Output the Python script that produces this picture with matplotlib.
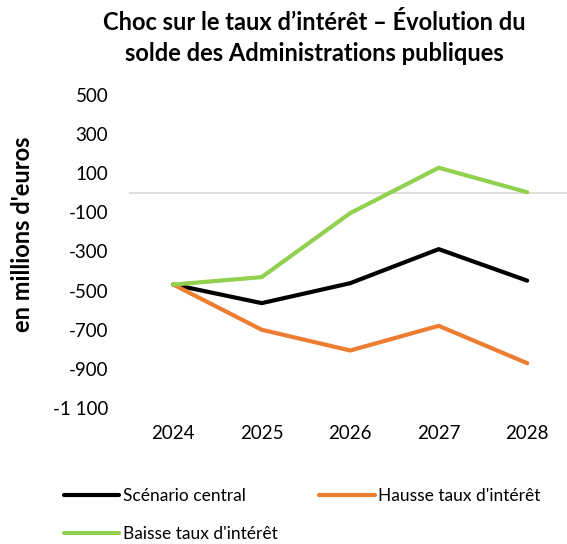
import matplotlib.pyplot as plt

plt.rcParams['font.family'] = ['Lato', 'DejaVu Sans']

years = ['2024', '2025', '2026', '2027', '2028']
central = [-469, -564, -462, -288, -449]
hausse = [-469, -700, -806, -680, -871]
baisse = [-469, -431, -104, 128, 3]

fig = plt.figure(figsize=(5.67, 5.44), dpi=100)
ax = fig.add_axes([0.2275, 0.25, 0.7725, 0.5754])

x = range(len(years))
l1, = ax.plot(x, central, color='black', lw=3, solid_capstyle='round', label='Scénario central')
l2, = ax.plot(x, hausse, color='#ed7d31', lw=3, solid_capstyle='round', label="Hausse taux d'intérêt")
l3, = ax.plot(x, baisse, color='#92d050', lw=3, solid_capstyle='round', label="Baisse taux d'intérêt")
ax.axhline(0, color='#d9d9d9', lw=1.2, zorder=0)

ax.set_xlim(-0.5, 4.45)
ax.set_ylim(-1100, 500)
yt = list(range(-1100, 501, 200))
ax.set_yticks(yt)
ax.set_yticklabels([f'{v:,}'.replace(',', ' ') for v in yt])
ax.set_xticks(list(x))
ax.set_xticklabels(years)
ax.tick_params(length=0, labelsize=13.5, pad=12)
ax.tick_params(axis='y', pad=15)
for s in ax.spines.values():
    s.set_visible(False)

fig.text(0.04, 0.57, "en millions d'euros", rotation=90, ha='center', va='center',
         fontsize=17, fontweight='bold')
fig.suptitle("Choc sur le taux d’intérêt – Évolution du\nsolde des Administrations publiques",
             x=0.555, y=0.98, fontsize=17, fontweight='bold', linespacing=1.45)

# column-major fill: central/baisse in column 1, hausse in column 2
fig.legend([l1, l3, l2], [l1.get_label(), l3.get_label(), l2.get_label()],
           loc='lower left', bbox_to_anchor=(0.085, -0.025), ncol=2,
           frameon=False, fontsize=12.5, handlelength=3.2, handletextpad=0.2,
           columnspacing=2.4, labelspacing=1.25)

fig.savefig('out.png', dpi=100)
